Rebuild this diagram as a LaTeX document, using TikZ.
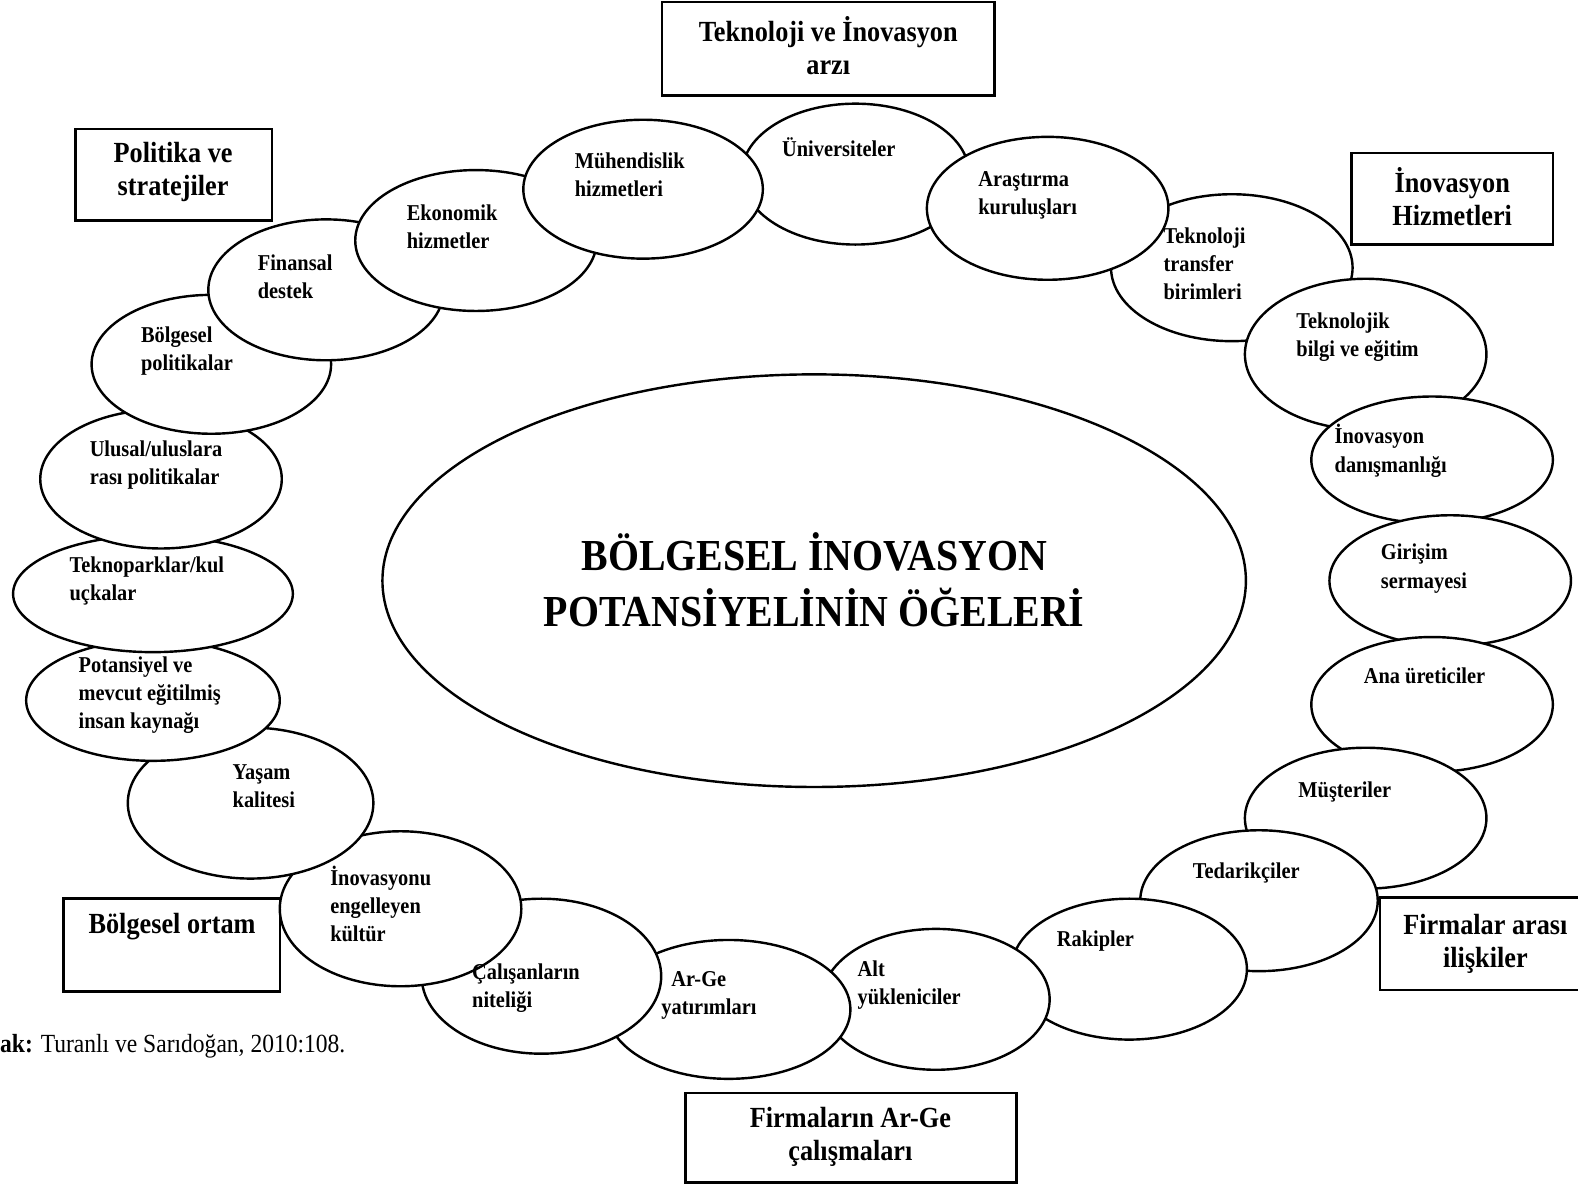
\documentclass[tikz,border=0pt]{standalone}
\usepackage{fontspec}
\setmainfont{Liberation Serif}[FakeStretch=0.9]
\usetikzlibrary{shapes.geometric}

\tikzset{
  blob/.style={ellipse, draw, line width=2.4pt, fill=white, inner sep=0pt, outer sep=0pt},
  frame/.style={rectangle, draw, line width=2.4pt, inner sep=0pt, outer sep=0pt},
  etext/.style={anchor=west, align=left, inner sep=0pt, font=\fontsize{22.5}{28}\selectfont\bfseries},
  btext/.style={anchor=center, align=center, inner sep=0pt, font=\fontsize{29}{33}\selectfont\bfseries},
  ctext/.style={anchor=center, align=center, inner sep=0pt, font=\fontsize{44}{56}\selectfont\bfseries},
}

\begin{document}
\begin{tikzpicture}[x=1pt,y=-1pt]
\useasboundingbox (0,0) rectangle (1568,1177);

% central element
\node[blob, minimum width=858pt, minimum height=410pt] (core) at (809,577) {};

% ring of elements, drawn from the lowest to the uppermost
\node[blob, minimum width=226pt, minimum height=140pt] (e-uni)      at (850,173)  {};
\node[blob, minimum width=240pt, minimum height=146pt] (e-transfer) at (1224,266) {};
\node[blob, minimum width=240pt, minimum height=142pt] (e-aras)     at (1041,207) {};
\node[blob, minimum width=240pt, minimum height=150pt] (e-tekbil)   at (1357,352) {};
\node[blob, minimum width=240pt, minimum height=126pt] (e-inovdan)  at (1423,457) {};
\node[blob, minimum width=240pt, minimum height=130pt] (e-girisim)  at (1441,577) {};
\node[blob, minimum width=240pt, minimum height=134pt] (e-ana)      at (1423,700) {};
\node[blob, minimum width=240pt, minimum height=140pt] (e-must)     at (1357,813) {};
\node[blob, minimum width=236pt, minimum height=140pt] (e-tedarik)  at (1251,895) {};
\node[blob, minimum width=234pt, minimum height=140pt] (e-rakip)    at (1122,963) {};
\node[blob, minimum width=226pt, minimum height=140pt] (e-alt)      at (930,993)  {};
\node[blob, minimum width=242pt, minimum height=138pt] (e-arge)     at (724,1003) {};
\node[blob, minimum width=238pt, minimum height=154pt] (e-calis)    at (538,970)  {};
\node[blob, minimum width=240pt, minimum height=154pt] (e-inovkul)  at (398,903)  {};
\node[blob, minimum width=244pt, minimum height=150pt] (e-yasam)    at (249,798)  {};
\node[blob, minimum width=252pt, minimum height=120pt] (e-potans)   at (152,696)  {};
\node[blob, minimum width=278pt, minimum height=116pt] (e-teknop)   at (152,590)  {};
\node[blob, minimum width=240pt, minimum height=138pt] (e-ulusal)   at (160,476)  {};
\node[blob, minimum width=238pt, minimum height=138pt] (e-bolpol)   at (210,362)  {};
\node[blob, minimum width=234pt, minimum height=140pt] (e-finans)   at (324,288)  {};
\node[blob, minimum width=240pt, minimum height=140pt] (e-ekon)     at (473,239)  {};
\node[blob, minimum width=238pt, minimum height=138pt] (e-muh)      at (639,188)  {};

% group frames
\node[frame, minimum width=330pt, minimum height=93pt] (b-tek)    at (823,48.5)    {};
\node[frame, minimum width=195pt, minimum height=91pt] (b-pol)    at (172.5,173.5) {};
\node[frame, minimum width=200pt, minimum height=91pt] (b-inov)   at (1443,197.5)  {};
\node[frame, minimum width=215pt, minimum height=92pt] (b-bolort) at (170.5,939)   {};
\node[frame, minimum width=214pt, minimum height=92pt] (b-firm)   at (1478,938)    {};
\node[frame, minimum width=329pt, minimum height=89pt] (b-arge)   at (845.5,1130.5){};

% labels of the elements
\node[ctext] (t-core) at (809,576) {BÖLGESEL İNOVASYON\\POTANSİYELİNİN ÖĞELERİ};

\node[etext] (t-muh)      at (571,174)  {Mühendislik\\hizmetleri};
\node[etext] (t-uni)      at (777,146)  {Üniversiteler};
\node[etext] (t-aras)     at (972,194)  {Araştırma\\kuruluşları};
\node[etext] (t-transfer) at (1156,262) {Teknoloji\\transfer\\birimleri};
\node[etext] (t-tekbil)   at (1288,335) {Teknolojik\\bilgi ve eğitim};
\node[etext] (t-inovdan)  at (1326,448) {İnovasyon\\danışmanlığı};
\node[etext] (t-girisim)  at (1372,565) {Girişim\\sermayesi};
\node[etext] (t-ana)      at (1355,671) {Ana üreticiler};
\node[etext] (t-must)     at (1290,787) {Müşteriler};
\node[etext] (t-tedarik)  at (1185,867) {Tedarikçiler};
\node[etext] (t-rakip)    at (1050,935) {Rakipler};
\node[etext] (t-alt)      at (852,979)  {Alt\\yükleniciler};
\node[etext] (t-arge)     at (657,989)  {\hspace*{10pt}Ar-Ge\\yatırımları};
\node[etext] (t-calis)    at (469,982)  {Çalışanların\\niteliği};
\node[etext] (t-inovkul)  at (328,898)  {İnovasyonu\\engelleyen\\kültür};
\node[etext] (t-yasam)    at (231,781)  {Yaşam\\kalitesi};
\node[etext] (t-potans)   at (78,691)   {Potansiyel ve\\mevcut eğitilmiş\\insan kaynağı};
\node[etext] (t-teknop)   at (69,577)   {Teknoparklar/kul\\uçkalar};
\node[etext] (t-ulusal)   at (89,462)   {Ulusal/uluslara\\rası politikalar};
\node[etext] (t-bolpol)   at (140,349)  {Bölgesel\\politikalar};
\node[etext] (t-finans)   at (256,275)  {Finansal\\destek};
\node[etext] (t-ekon)     at (404,225)  {Ekonomik\\hizmetler};

% labels of the frames
\node[btext] (tb-tek)    at (823,45.5) {Teknoloji ve İnovasyon\\arzı};
\node[btext] (tb-pol)    at (172,171)  {Politika ve\\stratejiler};
\node[btext] (tb-inov)   at (1443,195) {İnovasyon\\Hizmetleri};
\node[btext] (tb-bolort) at (171,921)  {Bölgesel ortam};
\node[btext] (tb-firm)   at (1476,938) {Firmalar arası\\ilişkiler};
\node[btext] (tb-arge)   at (845,1130) {Firmaların Ar-Ge\\çalışmaları};

% source line
\node[anchor=west, inner sep=0pt, font=\fontsize{26}{30}\selectfont] (src) at (0,1040)
  {\textbf{ak:} Turanlı ve Sarıdoğan, 2010:108.};
\end{tikzpicture}
\end{document}
